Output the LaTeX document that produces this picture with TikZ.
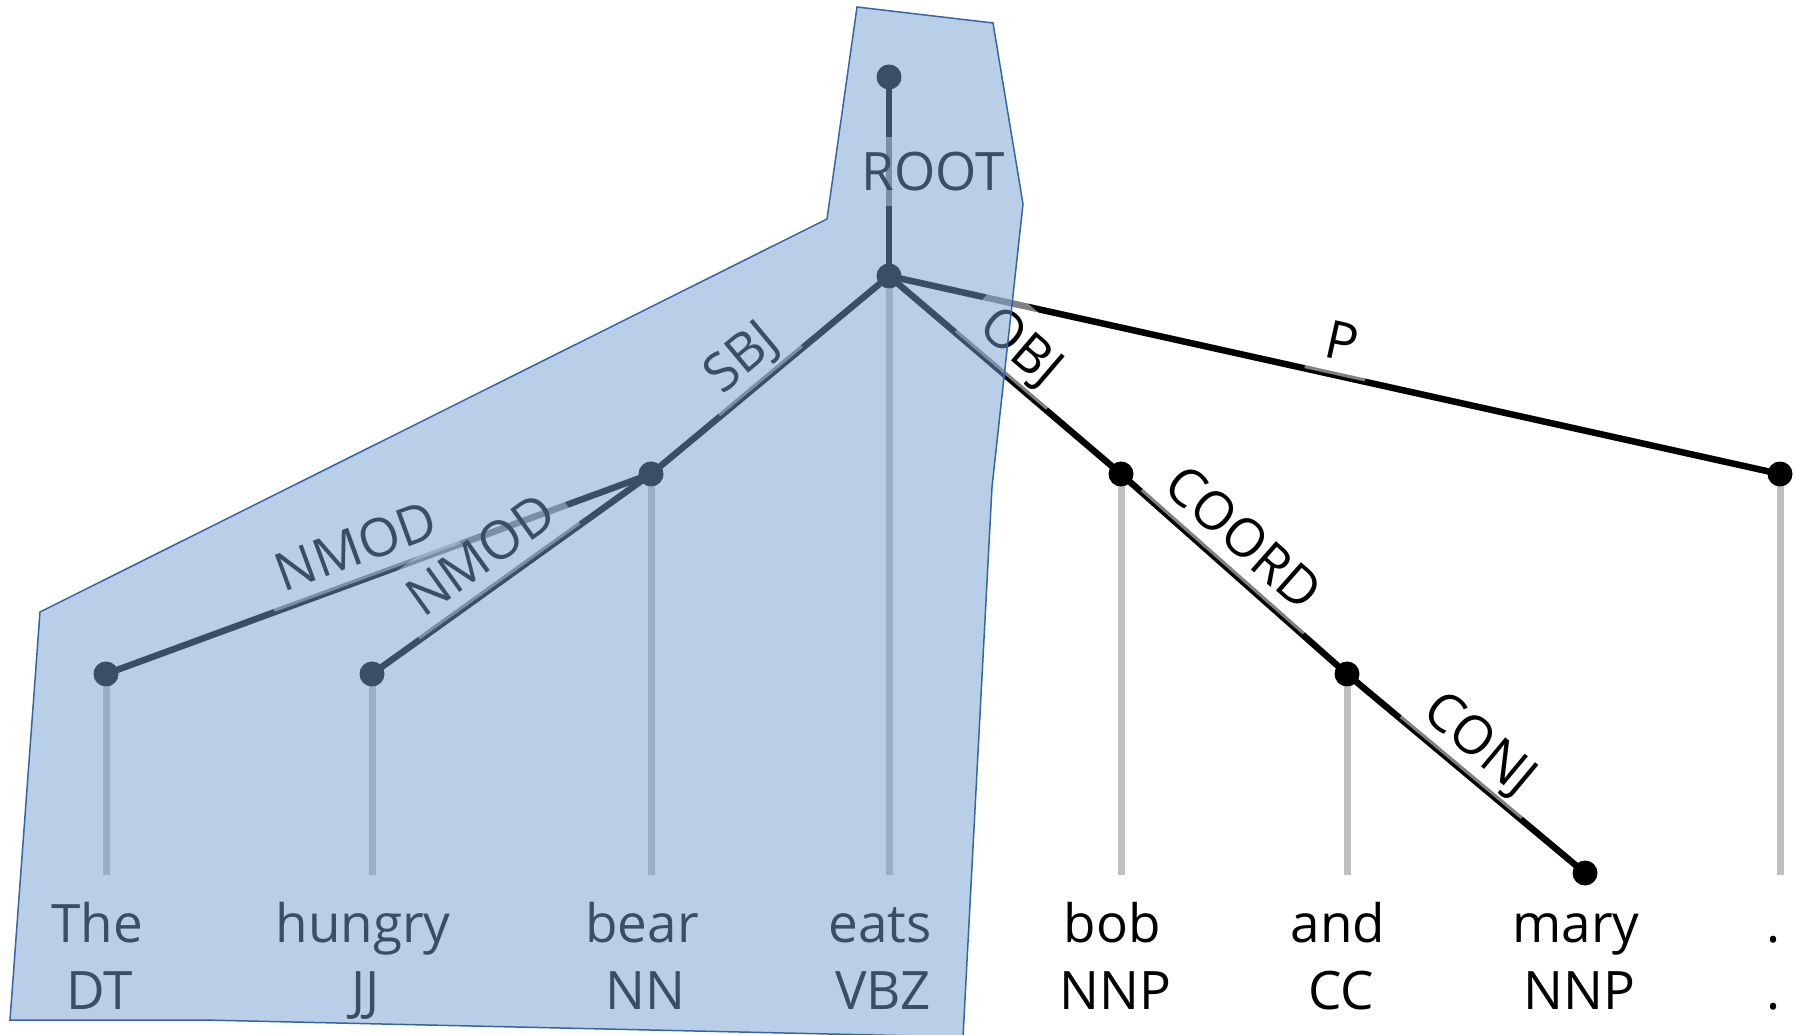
\documentclass[tikz,border=0pt]{standalone}
\usepackage{fontspec}
\setmainfont{Open Sans}
\definecolor{polyfill}{HTML}{729FCF}
\definecolor{polydraw}{HTML}{3465A4}
\definecolor{guide}{HTML}{C0C0C0}
\begin{document}
\begin{tikzpicture}[x=1pt,y=1pt,
  tok/.style={circle,fill=black,inner sep=0pt,minimum size=25pt},
  dep/.style={line width=6.5pt},
  guideline/.style={draw=guide,line width=7pt},
  lab/.style={font=\fontsize{53}{60}\selectfont, fill=white, fill opacity=0.5, text opacity=1, inner sep=15pt, text height=39pt, text depth=0pt},
  word/.style={font=\fontsize{53}{60}\selectfont, anchor=base, inner sep=0pt}]
\useasboundingbox (0,0) rectangle (1796,1034);
% positions
\coordinate (root) at (889,957);
\coordinate (eats) at (889,758);
\coordinate (bear) at (651,560);
\coordinate (the) at (106,360);
\coordinate (hungry) at (372,360);
\coordinate (bob) at (1121,560);
\coordinate (and) at (1347,360);
\coordinate (mary) at (1585,161);
\coordinate (period) at (1780,560);
% guide line ends
\coordinate (the-b) at (106,159);
\coordinate (hungry-b) at (372,159);
\coordinate (bear-b) at (651,159);
\coordinate (eats-b) at (889,159);
\coordinate (bob-b) at (1121,159);
\coordinate (and-b) at (1347,159);
\coordinate (period-b) at (1780,159);
% guide lines
\draw[guideline] (the) -- (the-b);
\draw[guideline] (hungry) -- (hungry-b);
\draw[guideline] (bear) -- (bear-b);
\draw[guideline] (eats) -- (eats-b);
\draw[guideline] (bob) -- (bob-b);
\draw[guideline] (and) -- (and-b);
\draw[guideline] (period) -- (period-b);
% dependency edges
\draw[dep] (root) -- (eats);
\draw[dep] (eats) -- (bear);
\draw[dep] (bear) -- (the);
\draw[dep] (bear) -- (hungry);
\draw[dep] (eats) -- (bob);
\draw[dep] (eats) -- (period);
\draw[dep] (bob) -- (and);
\draw[dep] (and) -- (mary);
% dots
\node[tok] (root-d) at (root) {};
\node[tok] (eats-d) at (eats) {};
\node[tok] (bear-d) at (bear) {};
\node[tok] (the-d) at (the) {};
\node[tok] (hungry-d) at (hungry) {};
\node[tok] (bob-d) at (bob) {};
\node[tok] (and-d) at (and) {};
\node[tok] (mary-d) at (mary) {};
\node[tok] (period-d) at (period) {};
% labels
\path (root) -- (eats) node[lab, midway, xshift=44pt, yshift=5pt] (l-root) {ROOT};
\path (eats) -- (bear) node[lab, sloped, above, pos=0.535] (l-sbj) {SBJ};
\path (bear) -- (the) node[lab, sloped, above, pos=0.52] (l-nmod1) {NMOD};
\path (bear) -- (hungry) node[lab, sloped, above, pos=0.54] (l-nmod2) {NMOD};
\path (eats) -- (bob) node[lab, sloped, above, pos=0.48] (l-obj) {OBJ};
\path (eats) -- (period) node[lab, sloped, above, pos=0.5] (l-p) {P};
\path (bob) -- (and) node[lab, sloped, above, pos=0.445] (l-coord) {COORD};
\path (and) -- (mary) node[lab, sloped, above, pos=0.475] (l-conj) {CONJ};
% words
\node[word] (w1) at (97,92) {The};
\node[word] (w2) at (363,92) {hungry};
\node[word] (w3) at (642,92) {bear};
\node[word] (w4) at (880,92) {eats};
\node[word] (w5) at (1112,92) {bob};
\node[word] (w6) at (1338,92) {and};
\node[word] (w7) at (1576,92) {mary};
\node[word] (w8) at (1774,92) {.};
\node[word] (p1) at (100,25) {DT};
\node[word] (p2) at (366,25) {JJ};
\node[word] (p3) at (645,25) {NN};
\node[word] (p4) at (883,25) {VBZ};
\node[word] (p5) at (1115,25) {NNP};
\node[word] (p6) at (1341,25) {CC};
\node[word] (p7) at (1579,25) {NNP};
\node[word] (p8) at (1774,25) {.};
% highlighted subtree
\path[fill=polyfill, fill opacity=0.5, draw=polydraw, line width=1.5pt]
  (857,1027) -- (993,1011) -- (1023,830) -- (992,547) -- (963,-3) --
  (203,14) -- (10,14) -- (40,422) -- (827,815) -- cycle;
\end{tikzpicture}
\end{document}
